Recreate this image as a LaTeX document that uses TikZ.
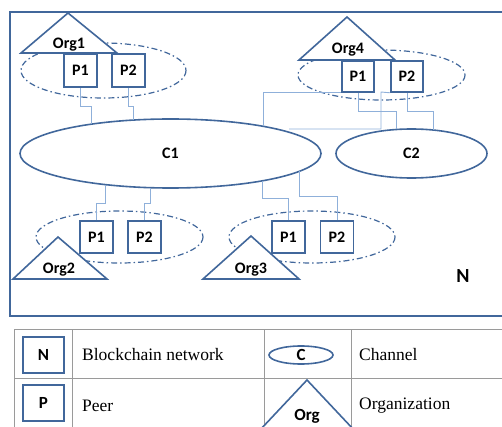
\documentclass[tikz,border=0pt]{standalone}
\usepackage{fontspec}
\setmainfont{Liberation Serif}
\newfontfamily\calib{Carlito}
\usetikzlibrary{shapes.geometric}
\definecolor{frameblue}{HTML}{41679B}
\definecolor{linkblue}{HTML}{8FB0DA}
\definecolor{gridgray}{HTML}{9A9A9A}

\begin{document}
\begin{tikzpicture}[x=1pt,y=-1pt,
  lbl/.style={font=\calib\bfseries\fontsize{16}{18}\selectfont, inner sep=0pt},
  peer/.style={draw=frameblue, line width=1.6pt, fill=white, minimum width=33pt,
    minimum height=32pt, inner sep=0pt, lbl},
  chan/.style={draw=frameblue, line width=1.6pt, ellipse, inner sep=0pt, lbl},
  grp/.style={draw=frameblue, line width=1.2pt,
    dash pattern=on 6pt off 3pt on 1.5pt off 3pt},
  orgtri/.style={draw=frameblue, line width=1.6pt, fill=white, line join=miter},
  link/.style={draw=linkblue, line width=0.9pt},
  frame/.style={draw=frameblue, line width=1.8pt},
  grid/.style={draw=gridgray, line width=1pt},
  legsym/.style={font=\calib\bfseries\fontsize{17}{19}\selectfont},
  legtext/.style={anchor=west, inner sep=0pt, font=\fontsize{17.5}{20}\selectfont}]

\useasboundingbox (0,0) rectangle (502,427);

% blockchain network frame
\draw[frame] (10,12) rectangle (515,316);
\node[lbl, font=\calib\bfseries\fontsize{20}{22}\selectfont] (nlabel) at (463,276) {N};

% organisation groups (dash-dotted)
\draw[grp] (103.5,70.5) ellipse (82.5 and 27.5);
\draw[grp] (381.5,75) ellipse (83.5 and 25);
\draw[grp] (119.5,237) ellipse (83.5 and 26);
\draw[grp] (312,237) ellipse (83 and 26);

% organisations
\draw[orgtri] (68,13) -- (117,53) -- (21,53) -- cycle;
\node[lbl] (org1) at (69,45) {Org1};
\draw[orgtri] (347,17) -- (395,60) -- (299,60) -- cycle;
\node[lbl] (org4) at (348,50) {Org4};
\draw[orgtri] (58,237) -- (107,279) -- (13,279) -- cycle;
\node[lbl] (org2) at (59,270) {Org2};
\draw[orgtri] (251,236) -- (299,279) -- (203,279) -- cycle;
\node[lbl] (org3) at (251,270) {Org3};

% channels
\node[chan, minimum width=301pt, minimum height=69pt] (c1) at (170.5,153.5) {C1};
\node[chan, minimum width=151pt, minimum height=49pt] (c2) at (411.5,153.5) {C2};

% peers
\node[peer, minimum height=33pt] (o1p1) at (80.5,70.5) {P1};
\node[peer, minimum height=33pt] (o1p2) at (128.5,70.5) {P2};
\node[peer, minimum width=32pt, minimum height=31pt] (o4p1) at (358,76.5) {P1};
\node[peer, minimum width=32pt, minimum height=31pt] (o4p2) at (407,76.5) {P2};
\node[peer] (o2p1) at (96.5,237) {P1};
\node[peer] (o2p2) at (144.5,237) {P2};
\node[peer] (o3p1) at (288.5,237) {P1};
\node[peer] (o3p2) at (337,237) {P2};

% points on the channel borders
\coordinate (c1t1) at (91,124.2);
\coordinate (c1t2) at (133,120.1);
\coordinate (c1t3) at (263,126.3);
\coordinate (c1t4) at (289,129);
\coordinate (c1b1) at (105,184.6);
\coordinate (c1b2) at (150,187.7);
\coordinate (c1b3) at (262,180.9);
\coordinate (c1b4) at (299,171.4);
\coordinate (c2t1) at (396,129.5);
\coordinate (c2t2) at (433,130);

% peer-to-channel links
\draw[link] (o1p1.south) -- (80.5,106) -| (c1t1);
\draw[link] (o1p2.south) -- (128.5,106) -| (c1t2);
\draw[link] (c1t3) |- (o4p1.south west);
\draw[link] (o4p1.south) -- (358,111) -| (c2t1);
\draw[link] (o4p2.south) -- (407,111) -| (c2t2);
\draw[link] (o4p2.south west) -- (381,92) -- (381,129) -- (c1t4);
\draw[link] (o2p1.north) -- (96.5,203) -| (c1b1);
\draw[link] (o2p2.north) -- (144.5,203) -| (c1b2);
\draw[link] (o3p1.north) -- (288.5,198) -| (c1b3);
\draw[link] (o3p2.north) -- (337,196) -| (c1b4);

% legend table
\draw[grid] (14,329) -- (510,329);
\draw[grid] (14,378) -- (510,378);
\draw[grid] (14,427) -- (510,427);
\foreach \gx in {14,72,264,351} \draw[grid] (\gx,329) -- (\gx,430);

\node[peer, line width=2pt, minimum width=41pt, minimum height=36pt, legsym]
  (legn) at (43.5,355) {N};
\node[legtext] (legnt) at (82,355) {Blockchain network};
\node[peer, line width=2pt, minimum width=41pt, minimum height=36pt, legsym]
  (legp) at (43.5,403) {P};
\node[legtext] (legpt) at (82,406) {Peer};
\node[chan, line width=1.6pt, minimum width=64pt, minimum height=18pt, legsym]
  (legc) at (301,355) {C};
\node[legtext] (legct) at (359,355) {Channel};
\draw[orgtri] (307,380) -- (354,430) -- (260,430) -- cycle;
\node[lbl, legsym] (lego) at (307,416) {Org};
\node[legtext] (legot) at (359,406) {Organization};
\end{tikzpicture}
\end{document}
